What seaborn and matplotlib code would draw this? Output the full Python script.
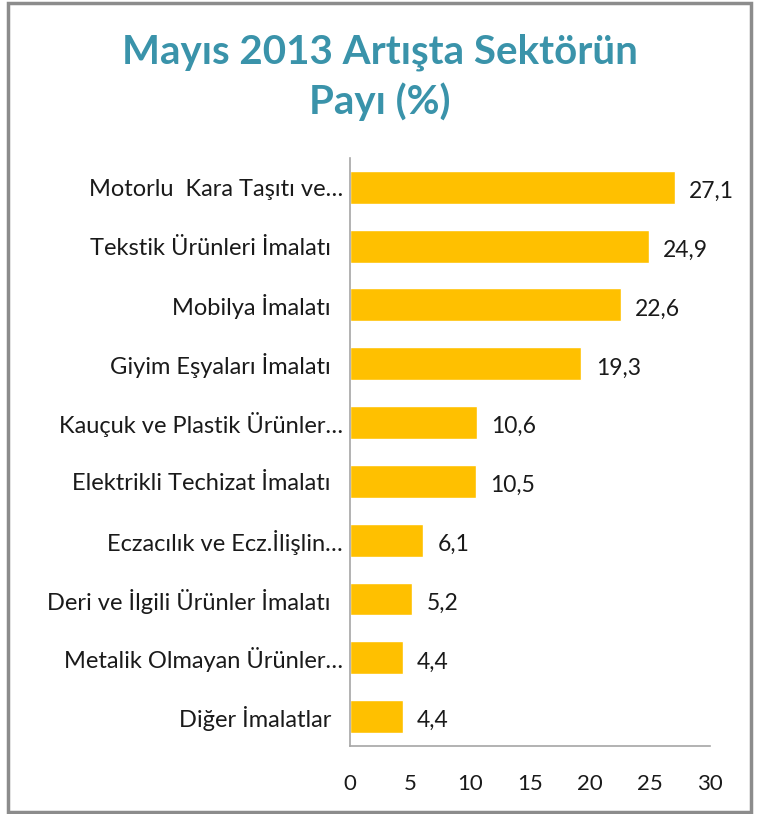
import matplotlib
matplotlib.use('Agg')
import pandas as pd
import seaborn as sns
import matplotlib.pyplot as plt
from matplotlib.patches import Rectangle

sectors = ['Motorlu  Kara Taşıtı ve…', 'Tekstik Ürünleri İmalatı  ', 'Mobilya İmalatı  ',
           'Giyim Eşyaları İmalatı  ', 'Kauçuk ve Plastik Ürünler…', 'Elektrikli Techizat İmalatı  ',
           'Eczacılık ve Ecz.İlişlin…', 'Deri ve İlgili Ürünler İmalatı  ', 'Metalik Olmayan Ürünler…',
           'Diğer İmalatlar  ']
shares = [27.1, 24.9, 22.6, 19.3, 10.6, 10.5, 6.1, 5.2, 4.4, 4.4]
x_ticks = [0, 5, 10, 15, 20, 25, 30]

df = pd.DataFrame({'sector': sectors, 'share': shares})

sns.set_theme(style='white')
plt.rcParams['font.family'] = ['Lato', 'DejaVu Sans']

fig = plt.figure(figsize=(7.59, 8.14), dpi=100)
ax = fig.add_axes([0.461, 0.0835, 0.474, 0.7225])
sns.barplot(data=df, x='share', y='sector', color='#FFC000', saturation=1, width=0.56, ax=ax)

for i, v in enumerate(shares):
    ax.text(v + 1.2, i + 0.07, f'{v:.1f}'.replace('.', ','), va='center', ha='left',
            fontsize=16.5, color='#1a1a1a')

ax.set_xlim(0, 30)
ax.set_xticks(x_ticks)
ax.set_xticklabels([str(t) for t in x_ticks], fontsize=16, color='#1a1a1a')
ax.tick_params(axis='x', length=0, pad=20)
ax.tick_params(axis='y', length=0, pad=5, labelsize=17, labelcolor='#1a1a1a')
ax.set_xlabel('')
ax.set_ylabel('')
for s in ['top', 'right']:
    ax.spines[s].set_visible(False)
for s in ['left', 'bottom']:
    ax.spines[s].set_color('#A6A6A6')
    ax.spines[s].set_linewidth(1.2)

fig.text(0.5, 0.905, 'Mayıs 2013 Artışta Sektörün\nPayı (%)', ha='center', va='center',
         fontsize=29, fontweight='bold', color='#3A93AA', linespacing=1.35)

fig.patches.append(Rectangle((0.011, 0.003), 0.978, 0.993, transform=fig.transFigure,
                             fill=False, edgecolor='#8C8C8C', linewidth=2.5))

fig.savefig('out.png', dpi=100)
